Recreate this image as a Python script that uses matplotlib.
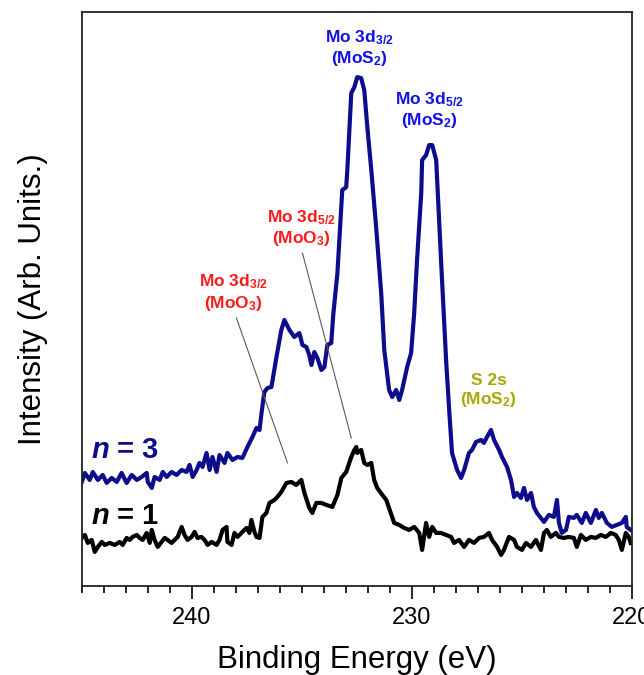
import matplotlib
matplotlib.use('Agg')
import matplotlib.pyplot as plt
import numpy as np
from matplotlib.ticker import MultipleLocator

# fonts: Arial look-alike, bold subscripts in the peak labels
plt.rcParams['font.family'] = ['Liberation Sans', 'DejaVu Sans']
plt.rcParams['mathtext.fontset'] = 'custom'
plt.rcParams['mathtext.rm'] = 'Liberation Sans:bold'
plt.rcParams['mathtext.it'] = 'Liberation Sans:bold:italic'
plt.rcParams['mathtext.bf'] = 'Liberation Sans:bold'

# n = 3 spectrum (binding energy in eV, intensity in arb. units)
e_n3 = [245.00, 244.86, 244.64, 244.50, 244.27, 244.05, 243.87, 243.64, 243.41, 243.19,
        242.96, 242.73, 242.50, 242.28, 242.05, 242.00, 241.82, 241.69, 241.46, 241.32,
        241.14, 240.92, 240.69, 240.46, 240.24, 240.10, 239.96, 239.78, 239.65, 239.51,
        239.33, 239.19, 239.06, 238.87, 238.74, 238.51, 238.38, 238.15, 237.92, 237.70,
        237.47, 237.24, 237.06, 236.92, 236.83, 236.70, 236.56, 236.38, 236.15, 235.93,
        235.79, 235.56, 235.34, 235.11, 234.97, 234.79, 234.66, 234.56, 234.43, 234.29,
        234.11, 233.97, 233.84, 233.66, 233.57, 233.38, 233.16, 232.98, 232.93, 232.75,
        232.61, 232.48, 232.30, 232.16, 232.02, 231.84, 231.62, 231.39, 231.25, 231.03,
        230.89, 230.71, 230.57, 230.44, 230.21, 230.03, 229.89, 229.76, 229.57, 229.53,
        229.35, 229.21, 229.07, 228.89, 228.67, 228.44, 228.30, 228.17, 227.94, 227.76,
        227.62, 227.40, 227.26, 227.08, 226.85, 226.72, 226.58, 226.40, 226.26, 226.03,
        225.90, 225.67, 225.49, 225.35, 225.22, 225.04, 224.90, 224.76, 224.58, 224.45,
        224.31, 224.13, 223.99, 223.77, 223.54, 223.40, 223.31, 223.18, 222.99, 222.86,
        222.63, 222.50, 222.27, 222.09, 221.86, 221.63, 221.50, 221.36, 221.13, 220.91,
        220.68, 220.45, 220.27, 220.23, 220.05]
i_n3 = [104, 113, 106, 114, 106, 111, 103, 108, 104, 113,
        103, 111, 106, 109, 113, 104, 98, 109, 106, 114,
        109, 114, 111, 116, 114, 121, 109, 116, 123, 119,
        133, 116, 129, 114, 131, 123, 133, 126, 129, 128,
        139, 149, 158, 156, 173, 194, 198, 199, 229, 256,
        266, 256, 249, 253, 241, 239, 231, 221, 234, 228,
        216, 219, 241, 243, 271, 313, 396, 399, 416, 493,
        499, 509, 508, 496, 459, 416, 359, 293, 236, 196,
        189, 196, 186, 196, 219, 233, 273, 326, 393, 426,
        431, 441, 441, 426, 326, 226, 176, 133, 116, 108,
        116, 133, 136, 144, 146, 143, 149, 156, 146, 136,
        129, 119, 106, 89, 93, 88, 98, 86, 93, 79,
        73, 68, 64, 71, 69, 86, 63, 53, 56, 69,
        68, 71, 63, 73, 63, 76, 68, 73, 63, 59,
        61, 63, 69, 59, 56]

# n = 1 spectrum
e_n1 = [245.00, 244.86, 244.73, 244.55, 244.41, 244.27, 244.09, 243.96, 243.73, 243.50,
        243.28, 243.14, 242.96, 242.82, 242.69, 242.50, 242.37, 242.23, 242.05, 241.91,
        241.82, 241.69, 241.55, 241.37, 241.23, 241.10, 240.92, 240.78, 240.64, 240.46,
        240.33, 240.19, 240.01, 239.87, 239.74, 239.56, 239.42, 239.28, 239.10, 238.87,
        238.74, 238.60, 238.42, 238.38, 238.19, 238.06, 237.92, 237.70, 237.51, 237.38,
        237.29, 237.15, 237.06, 236.92, 236.79, 236.61, 236.47, 236.24, 236.11, 235.93,
        235.70, 235.47, 235.25, 235.02, 234.88, 234.66, 234.52, 234.34, 234.11, 233.88,
        233.61, 233.38, 233.20, 232.98, 232.75, 232.61, 232.52, 232.48, 232.30, 232.16,
        232.02, 231.84, 231.71, 231.57, 231.34, 231.16, 230.89, 230.80, 230.57, 230.35,
        230.12, 229.89, 229.66, 229.53, 229.35, 229.21, 229.07, 228.89, 228.67, 228.44,
        228.21, 228.08, 227.85, 227.62, 227.40, 227.17, 226.94, 226.72, 226.49, 226.35,
        226.12, 225.94, 225.81, 225.58, 225.35, 225.22, 224.99, 224.81, 224.58, 224.36,
        224.13, 223.99, 223.86, 223.68, 223.45, 223.31, 223.09, 222.86, 222.63, 222.50,
        222.31, 222.09, 221.86, 221.63, 221.41, 221.18, 220.95, 220.73, 220.59, 220.45,
        220.27, 220.14, 220.05]
i_n1 = [48, 51, 43, 46, 34, 39, 44, 41, 43, 41,
        44, 41, 48, 46, 49, 51, 48, 46, 53, 43,
        56, 46, 39, 44, 48, 46, 43, 46, 49, 59,
        51, 46, 49, 54, 48, 49, 46, 41, 44, 41,
        46, 56, 59, 44, 41, 53, 49, 54, 58, 53,
        66, 54, 49, 48, 69, 73, 83, 86, 89, 94,
        103, 104, 101, 106, 93, 78, 73, 83, 83, 81,
        79, 91, 108, 114, 129, 136, 139, 133, 136, 123,
        121, 123, 106, 98, 91, 86, 69, 63, 61, 58,
        56, 59, 53, 36, 63, 49, 59, 53, 53, 51,
        49, 43, 46, 39, 46, 43, 48, 49, 53, 46,
        39, 31, 36, 49, 46, 39, 36, 43, 39, 46,
        36, 53, 56, 49, 53, 49, 48, 49, 48, 39,
        51, 46, 49, 48, 51, 49, 53, 51, 46, 36,
        53, 49, 43]

# peak labels: text, energy, intensity, colour
peak_text = ['Mo 3d$_{3/2}$\n(MoS$_2$)', 'Mo 3d$_{5/2}$\n(MoS$_2$)',
             'Mo 3d$_{5/2}$\n(MoO$_3$)', 'Mo 3d$_{3/2}$\n(MoO$_3$)', 'S 2s\n(MoS$_2$)']
peak_e = [232.4, 229.2, 235.0, 238.1, 226.5]
peak_i = [538, 476, 358, 293, 195]
peak_col = ['#1010e8', '#1010e8', '#ff1a1a', '#ff1a1a', '#a8a800']

# thin leader lines for the MoO3 peaks
lead_e = [[237.97, 235.65], [234.97, 232.75]]
lead_i = [[268, 123], [333, 148]]

navy = '#0c0c8c'

fig = plt.figure(figsize=(6.44, 6.75), dpi=100)
ax = fig.add_axes([0.127, 0.132, 0.854, 0.850])

ax.plot(e_n3, i_n3, color=navy, lw=3.0, solid_joinstyle='round')
ax.plot(e_n1, i_n1, color='black', lw=3.0, solid_joinstyle='round')

for le, li in zip(lead_e, lead_i):
    ax.plot(le, li, color='#5a5a5a', lw=0.8)

for t, e, i, c in zip(peak_text, peak_e, peak_i, peak_col):
    ax.text(e, i, t, color=c, fontsize=12.5, fontweight='bold', ha='center', va='center',
            linespacing=1.2)

ax.text(244.6, 136, '$n$ = 3', color=navy, fontsize=21, fontweight='bold', va='center')
ax.text(244.6, 70, '$n$ = 1', color='black', fontsize=21, fontweight='bold', va='center')

ax.set_xlim(245, 220)
ax.set_ylim(0, 574)
ax.xaxis.set_major_locator(MultipleLocator(10))
ax.xaxis.set_minor_locator(MultipleLocator(1))
ax.tick_params(axis='x', which='major', direction='out', length=9, width=1.2,
               labelsize=17, pad=6)
ax.tick_params(axis='x', which='minor', direction='out', length=5, width=1.2)
ax.set_yticks([])
for s in ax.spines.values():
    s.set_linewidth(1.3)
    s.set_color('#222222')

ax.set_xlabel('Binding Energy (eV)', fontsize=22.5, labelpad=12)
ax.set_ylabel('Intensity (Arb. Units.)', fontsize=22.5, labelpad=24)

plt.savefig('out.png', dpi=100)
